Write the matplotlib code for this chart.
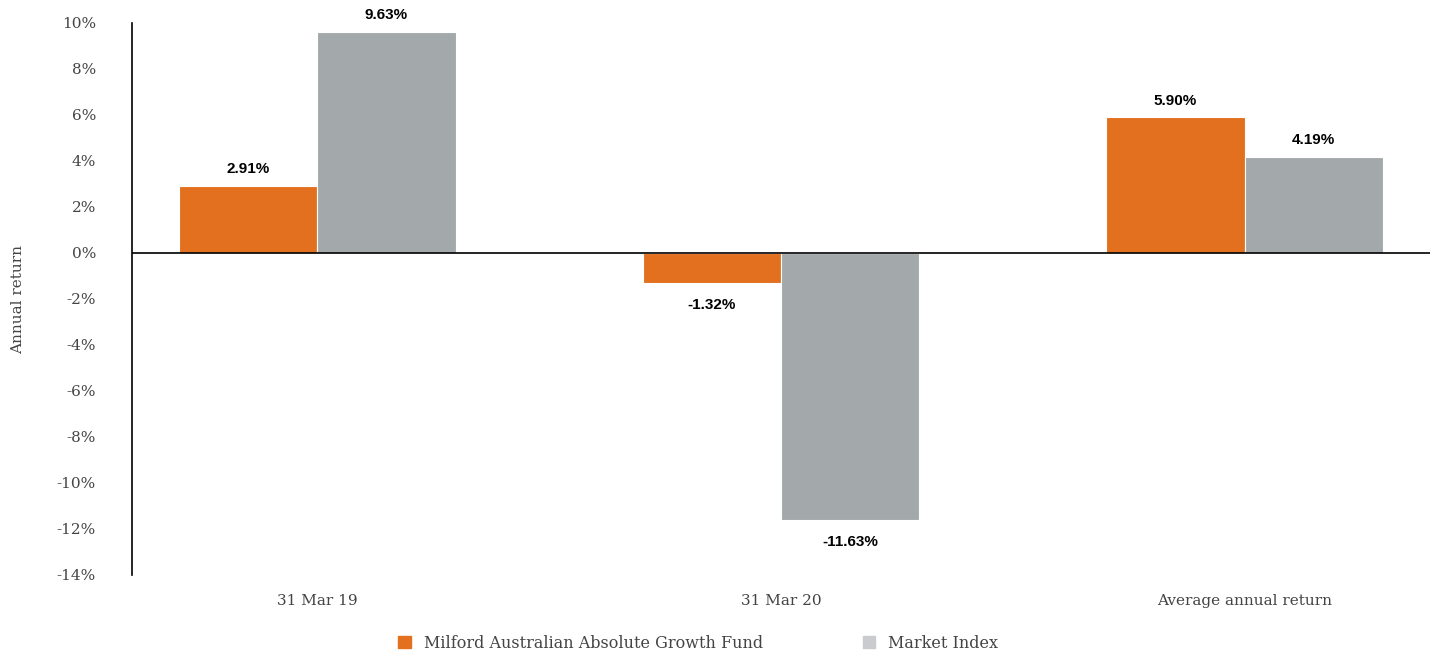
import matplotlib
matplotlib.use("Agg")
import matplotlib.pyplot as plt
from matplotlib.patches import Patch
import numpy as np

categories = ["31 Mar 19", "31 Mar 20", "Average annual return"]
fund = [2.91, -1.32, 5.90]
index = [9.63, -11.63, 4.19]
series_names = ["Milford Australian Absolute Growth Fund", "Market Index"]
yticks = list(range(-14, 11, 2))

orange = "#E2701F"
grey = "#A3A9AA"
legend_grey = "#C9CBCE"
tick_col = "#444444"

fig = plt.figure(figsize=(14.33, 6.53), dpi=100)
ax = fig.add_axes([132/1433, 1-575/653, (1430-132)/1433, (575-23)/653])

x = np.arange(len(categories))
w = 0.298
b1 = ax.bar(x - w/2, fund, w, color=orange, edgecolor="white", linewidth=0.8)
b2 = ax.bar(x + w/2, index, w, color=grey, edgecolor="white", linewidth=0.8)

ax.set_xlim(-0.4, 2.4)
ax.set_ylim(-14, 10)
ax.axhline(0, color="black", linewidth=1.2)

for s in ["top", "right", "bottom"]:
    ax.spines[s].set_visible(False)
ax.spines["left"].set_color("black")
ax.spines["left"].set_linewidth(1.2)

ax.set_yticks(yticks)
ax.set_yticklabels([f"{t}%" for t in yticks], fontfamily="DejaVu Serif",
                   fontsize=11, color=tick_col)
ax.tick_params(axis="y", length=0, pad=26)
ax.set_xticks(x)
ax.set_xticklabels(categories, fontfamily="DejaVu Serif", fontsize=11, color=tick_col)
ax.tick_params(axis="x", length=0, pad=14)

ax.set_ylabel("Annual return", fontfamily="DejaVu Serif", fontsize=11, color=tick_col)
ax.yaxis.set_label_coords(-0.082, 0.5)

lab_font = dict(fontfamily=["Liberation Sans Narrow", "Liberation Sans", "DejaVu Sans"],
                fontsize=11, fontweight="bold", color="black", ha="center")
for bars, vals in [(b1, fund), (b2, index)]:
    for r, v in zip(bars, vals):
        cx = r.get_x() + r.get_width()/2
        if v >= 0:
            ax.annotate(f"{v:.2f}%", (cx, v), xytext=(0, 7), textcoords="offset points",
                        va="bottom", **lab_font)
        else:
            ax.annotate(f"{v:.2f}%", (cx, v), xytext=(0, -10.5), textcoords="offset points",
                        va="top", **lab_font)

handles = [Patch(color=orange, label=series_names[0]),
           Patch(color=legend_grey, label=series_names[1])]
fig.legend(handles=handles, loc="center", bbox_to_anchor=(0.4872, 1-643/653), ncol=2,
           frameon=False, handlelength=0.8, handleheight=0.8, handletextpad=0.8,
           columnspacing=6.25, prop=dict(family="DejaVu Serif", size=11.5),
           labelcolor=tick_col)

fig.savefig("out.png", dpi=100)
